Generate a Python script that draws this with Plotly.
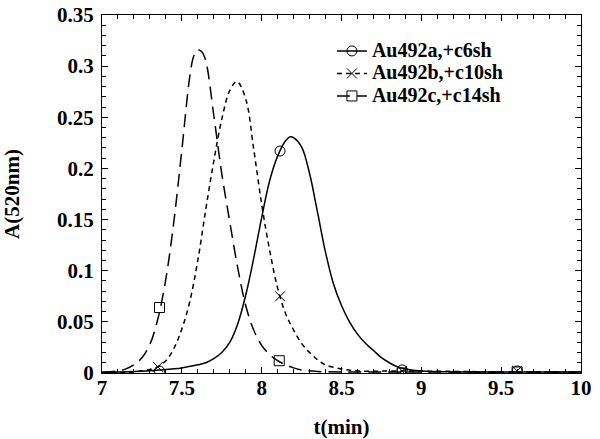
import plotly.graph_objects as go

# retention time (min) and absorbance at 520 nm
t_a = [7.0, 7.2, 7.36, 7.5, 7.6, 7.65, 7.7, 7.75, 7.8, 7.85, 7.9, 7.95, 8.0, 8.05, 8.1,
       8.15, 8.18, 8.2, 8.25, 8.3, 8.35, 8.4, 8.45, 8.5, 8.55, 8.6, 8.65, 8.7, 8.75,
       8.8, 8.85, 8.9, 9.0, 9.6, 10.0]
a_a = [0.0008, 0.0015, 0.003, 0.005, 0.008, 0.010, 0.014, 0.020, 0.030, 0.048, 0.076, 0.112,
       0.152, 0.188, 0.212, 0.227, 0.231, 0.230, 0.221, 0.195, 0.157, 0.118, 0.087, 0.066,
       0.050, 0.038, 0.029, 0.022, 0.015, 0.010, 0.006, 0.004, 0.002, 0.001, 0.001]

t_b = [7.0, 7.2, 7.25, 7.3, 7.35, 7.4, 7.45, 7.5, 7.55, 7.6, 7.65, 7.7, 7.75, 7.8, 7.845,
       7.9, 7.95, 8.0, 8.05, 8.1, 8.15, 8.2, 8.25, 8.3, 8.35, 8.4, 8.5, 8.6, 8.88, 9.6, 10.0]
a_b = [0.0005, 0.001, 0.002, 0.0035, 0.006, 0.012, 0.024, 0.043, 0.070, 0.110, 0.160, 0.207,
       0.248, 0.276, 0.285, 0.268, 0.219, 0.165, 0.120, 0.083, 0.058, 0.042, 0.029, 0.020,
       0.013, 0.008, 0.004, 0.002, 0.002, 0.001, 0.001]

t_c = [7.0, 7.1, 7.15, 7.2, 7.25, 7.3, 7.35, 7.4, 7.45, 7.5, 7.55, 7.575, 7.6, 7.625, 7.65,
       7.7, 7.75, 7.8, 7.85, 7.9, 7.95, 8.0, 8.05, 8.1, 8.15, 8.2, 8.25, 8.35, 8.5, 8.88, 10.0]
a_c = [0.0005, 0.002, 0.004, 0.008, 0.015, 0.028, 0.053, 0.092, 0.148, 0.218, 0.290, 0.310,
       0.316, 0.314, 0.305, 0.252, 0.195, 0.148, 0.103, 0.066, 0.042, 0.027, 0.018, 0.012,
       0.008, 0.005, 0.003, 0.0015, 0.001, 0.001, 0.001]

# sparse symbols drawn on each curve
mt_a = [7.36, 8.115, 8.88, 9.6]
ma_a = [0.002, 0.217, 0.003, 0.002]
mt_b = [7.35, 8.115, 8.88, 9.6]
ma_b = [0.006, 0.075, 0.002, 0.002]
mt_c = [7.36, 8.11, 8.88, 9.6]
ma_c = [0.064, 0.012, 0.0, 0.001]

names = ['Au492a,+c6sh', 'Au492b,+c10sh', 'Au492c,+c14sh']
dashes = ['solid', '5px,4px', '13px,7px']
symbols = ['circle-open', 'x-thin-open', 'square-open']

FONT = 'Liberation Serif'

fig = go.Figure()
curves = [(t_a, a_a, mt_a, ma_a), (t_b, a_b, mt_b, ma_b), (t_c, a_c, mt_c, ma_c)]
for i, (t, a, mt, ma) in enumerate(curves):
    line = dict(color='black', width=1.5, dash=dashes[i])
    marker = dict(symbol=symbols[i], size=10, color='black', line=dict(color='black', width=1))
    fig.add_trace(go.Scatter(x=t, y=a, mode='lines', line=dict(line, shape='spline'),
                             showlegend=False, hoverinfo='skip'))
    fig.add_trace(go.Scatter(x=mt, y=ma, mode='markers', marker=marker, showlegend=False))
    # legend entry only
    fig.add_trace(go.Scatter(x=[None], y=[None], mode='lines+markers', line=line, marker=marker,
                             name='<span style="font-size:20px">%s</span>' % names[i]))

axis = dict(
    showline=True, linecolor='black', linewidth=1, mirror='ticks', ticks='inside',
    ticklen=6, tickcolor='black', showgrid=False, zeroline=False, automargin=False,
    ticklabeloverflow='allow',
    tickfont=dict(family=FONT, size=21, color='black', weight='bold'),
)

fig.update_layout(
    width=600, height=439,
    margin=dict(l=102, r=19, t=15, b=66, autoexpand=False),
    paper_bgcolor='white', plot_bgcolor='white',
    showlegend=True,
    legend=dict(x=0.48, y=0.945, xanchor='left', yanchor='top', bgcolor='rgba(0,0,0,0)',
                font=dict(family=FONT, size=15, color='black', weight='bold'),
                tracegroupgap=0),
    xaxis=dict(axis, range=[7, 10], dtick=0.5, tick0=7, ticklabelstandoff=-4,
               minor=dict(dtick=0.1, ticks='inside', ticklen=4, tickcolor='black'),
               title=dict(text='t(min)', standoff=20,
                          font=dict(family=FONT, size=21, color='black', weight='bold'))),
    yaxis=dict(axis, range=[0, 0.35], dtick=0.05, tick0=0, ticklabelstandoff=3,
               minor=dict(dtick=0.01, ticks='inside', ticklen=4, tickcolor='black'),
               title=dict(text='A(520nm)', standoff=45,
                          font=dict(family=FONT, size=21, color='black', weight='bold'))),
)

# drop the default body margin so the 600x439 figure fills the window exactly
fig.write_html('out.html', config={'displayModeBar': False},
               post_script="document.body.style.margin='0';")
